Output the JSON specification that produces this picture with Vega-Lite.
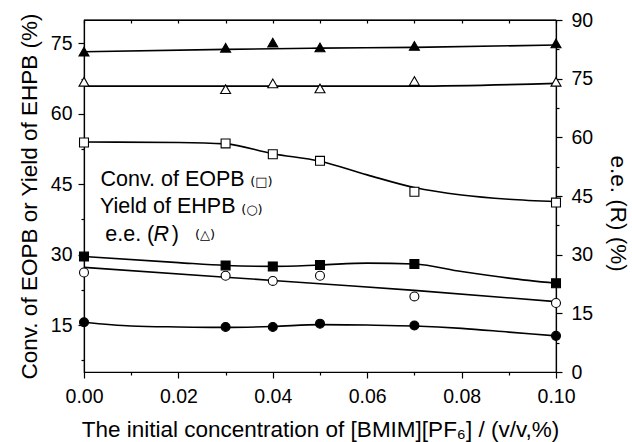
{
  "$schema": "https://vega.github.io/schema/vega-lite/v6.json",
  "autosize": "none",
  "width": 472,
  "height": 352,
  "padding": {"left": 84, "top": 20, "right": 76, "bottom": 70},
  "background": "white",
  "config": {
    "font": "Liberation Sans",
    "view": {"stroke": "black", "strokeWidth": 1.2},
    "axis": {"labelFont": "Liberation Sans", "titleFont": "Liberation Sans", "labelColor": "black", "titleColor": "black", "domainColor": "black", "tickColor": "black", "grid": false, "titleFontWeight": "normal", "labelFontSize": 19.5, "titleFontSize": 22.5, "domainWidth": 1.2, "tickWidth": 1.2, "labelOverlap": false, "labelFlush": false, "labelBound": false}
  },
  "datasets": {
    "pts": [
      {"s": "conv_open", "x": 0, "y": 53.9}, {"s": "conv_open", "x": 0.03, "y": 53.7}, {"s": "conv_open", "x": 0.04, "y": 51.4}, {"s": "conv_open", "x": 0.05, "y": 50.0}, {"s": "conv_open", "x": 0.07, "y": 43.4}, {"s": "conv_open", "x": 0.10, "y": 41.1},
      {"s": "conv_fill", "x": 0, "y": 29.6}, {"s": "conv_fill", "x": 0.03, "y": 27.7}, {"s": "conv_fill", "x": 0.04, "y": 27.5}, {"s": "conv_fill", "x": 0.05, "y": 27.8}, {"s": "conv_fill", "x": 0.07, "y": 28.0}, {"s": "conv_fill", "x": 0.10, "y": 23.9},
      {"s": "yield_open", "x": 0, "y": 26.2}, {"s": "yield_open", "x": 0.03, "y": 25.5}, {"s": "yield_open", "x": 0.04, "y": 24.4}, {"s": "yield_open", "x": 0.05, "y": 25.5}, {"s": "yield_open", "x": 0.07, "y": 21.1}, {"s": "yield_open", "x": 0.10, "y": 19.7},
      {"s": "yield_fill", "x": 0, "y": 15.6}, {"s": "yield_fill", "x": 0.03, "y": 14.6}, {"s": "yield_fill", "x": 0.04, "y": 14.6}, {"s": "yield_fill", "x": 0.05, "y": 15.3}, {"s": "yield_fill", "x": 0.07, "y": 14.9}, {"s": "yield_fill", "x": 0.10, "y": 12.7}
    ],
    "fit": [
      {"s": "conv_open", "x": 0, "y": 54.0}, {"s": "conv_open", "x": 0.02, "y": 53.9}, {"s": "conv_open", "x": 0.03, "y": 53.6}, {"s": "conv_open", "x": 0.04, "y": 51.5}, {"s": "conv_open", "x": 0.05, "y": 49.9}, {"s": "conv_open", "x": 0.06, "y": 47.0}, {"s": "conv_open", "x": 0.07, "y": 44.3}, {"s": "conv_open", "x": 0.08, "y": 42.7}, {"s": "conv_open", "x": 0.09, "y": 41.8}, {"s": "conv_open", "x": 0.10, "y": 41.3},
      {"s": "conv_fill", "x": 0, "y": 29.6}, {"s": "conv_fill", "x": 0.02, "y": 28.3}, {"s": "conv_fill", "x": 0.03, "y": 27.7}, {"s": "conv_fill", "x": 0.04, "y": 27.5}, {"s": "conv_fill", "x": 0.05, "y": 27.8}, {"s": "conv_fill", "x": 0.06, "y": 28.2}, {"s": "conv_fill", "x": 0.07, "y": 28.0}, {"s": "conv_fill", "x": 0.08, "y": 26.4}, {"s": "conv_fill", "x": 0.09, "y": 25.0}, {"s": "conv_fill", "x": 0.10, "y": 23.9},
      {"s": "yield_open", "x": 0, "y": 27.3}, {"s": "yield_open", "x": 0.03, "y": 25.2}, {"s": "yield_open", "x": 0.05, "y": 23.8}, {"s": "yield_open", "x": 0.07, "y": 22.4}, {"s": "yield_open", "x": 0.10, "y": 20.0},
      {"s": "yield_fill", "x": 0, "y": 15.6}, {"s": "yield_fill", "x": 0.01, "y": 14.8}, {"s": "yield_fill", "x": 0.02, "y": 14.6}, {"s": "yield_fill", "x": 0.03, "y": 14.5}, {"s": "yield_fill", "x": 0.04, "y": 14.7}, {"s": "yield_fill", "x": 0.05, "y": 15.1}, {"s": "yield_fill", "x": 0.06, "y": 15.0}, {"s": "yield_fill", "x": 0.07, "y": 14.8}, {"s": "yield_fill", "x": 0.08, "y": 14.3}, {"s": "yield_fill", "x": 0.09, "y": 13.5}, {"s": "yield_fill", "x": 0.10, "y": 12.7}
    ],
    "tpts": [
      {"s": "ee_fill", "x": 0, "y": 81.9}, {"s": "ee_fill", "x": 0.03, "y": 82.9}, {"s": "ee_fill", "x": 0.04, "y": 84.2}, {"s": "ee_fill", "x": 0.05, "y": 83.0}, {"s": "ee_fill", "x": 0.07, "y": 83.4}, {"s": "ee_fill", "x": 0.10, "y": 84.0},
      {"s": "ee_open", "x": 0, "y": 74.2}, {"s": "ee_open", "x": 0.03, "y": 72.3}, {"s": "ee_open", "x": 0.04, "y": 73.8}, {"s": "ee_open", "x": 0.05, "y": 72.5}, {"s": "ee_open", "x": 0.07, "y": 74.4}, {"s": "ee_open", "x": 0.10, "y": 74.2}
    ],
    "tfit": [
      {"s": "ee_fill", "x": 0, "y": 81.9}, {"s": "ee_fill", "x": 0.03, "y": 82.5}, {"s": "ee_fill", "x": 0.05, "y": 82.8}, {"s": "ee_fill", "x": 0.07, "y": 83.0}, {"s": "ee_fill", "x": 0.10, "y": 83.6},
      {"s": "ee_open", "x": 0, "y": 73.1}, {"s": "ee_open", "x": 0.05, "y": 73.1}, {"s": "ee_open", "x": 0.07, "y": 73.1}, {"s": "ee_open", "x": 0.10, "y": 73.8}
    ],
    "frame": [
      {"x": 0, "x2": 0.1, "y": 80}
    ],
    "labels": [
      {"t": "Conv. of EOPB", "x": 0.0035, "y": 45.9},
      {"t": "Yield of EHPB", "x": 0.0034, "y": 40.2},
      {"t": "e.e. (", "x": 0.0045, "y": 34.2},
      {"t": ")", "x": 0.0186, "y": 34.2}
    ],
    "ital": [
      {"t": "R", "x": 0.0147, "y": 34.2}
    ],
    "syms": [
      {"t": "(□)", "x": 0.0352, "y": 45.5},
      {"t": "(○)", "x": 0.0333, "y": 39.6},
      {"t": "(△)", "x": 0.0235, "y": 34.2}
    ]
  },
  "layer": [
    {
      "encoding": {
        "x": {"field": "x", "type": "quantitative", "scale": {"domain": [0, 0.1], "nice": false},
          "axis": {"orient": "bottom", "title": "The initial concentration of [BMIM][PF₆] / (v/v,%)", "values": [0, 0.01, 0.02, 0.03, 0.04, 0.05, 0.06, 0.07, 0.08, 0.09, 0.1],
            "labelExpr": "abs(round(datum.value*100)) % 2 == 0 ? format(datum.value, '.2f') : ''",
            "tickSize": {"condition": {"test": "abs(round(datum.value*100)) % 2 == 0", "value": 6}, "value": 3},
            "labelPadding": 9, "titlePadding": 13}},
        "y": {"field": "y", "type": "quantitative", "scale": {"domain": [5, 80], "nice": false, "zero": false},
          "axis": {"orient": "left", "title": "Conv. of EOPB or Yield of EHPB (%)", "values": [7.5, 15, 22.5, 30, 37.5, 45, 52.5, 60, 67.5, 75],
            "labelExpr": "datum.value % 15 == 0 ? datum.value : ''",
            "tickSize": {"condition": {"test": "datum.value % 15 == 0", "value": 6}, "value": 3},
            "labelPadding": 6, "titlePadding": 9}}
      },
      "layer": [
        {
          "data": {"name": "frame"},
          "mark": {"type": "rule", "color": "black", "strokeWidth": 1.2},
          "encoding": {"x2": {"field": "x2"}}
        },
        {
          "data": {"name": "fit"},
          "mark": {"type": "line", "interpolate": "monotone", "color": "black", "strokeWidth": 1.6},
          "encoding": {"detail": {"field": "s"}}
        },
        {
          "data": {"name": "pts"},
          "mark": {"type": "point", "filled": true, "stroke": "black", "strokeWidth": 1.1, "opacity": 1, "size": 80},
          "encoding": {
            "shape": {"field": "s", "type": "nominal", "scale": {"domain": ["conv_open", "conv_fill", "yield_open", "yield_fill"], "range": ["square", "square", "circle", "circle"]}, "legend": null},
            "fill": {"field": "s", "type": "nominal", "scale": {"domain": ["conv_open", "conv_fill", "yield_open", "yield_fill"], "range": ["white", "black", "white", "black"]}, "legend": null}
          }
        },
        {
          "data": {"name": "labels"},
          "mark": {"type": "text", "align": "left", "baseline": "middle", "fontSize": 21.5, "color": "black", "font": "Liberation Sans"},
          "encoding": {"text": {"field": "t", "type": "nominal"}}
        },
        {
          "data": {"name": "ital"},
          "mark": {"type": "text", "align": "left", "baseline": "middle", "fontSize": 21.5, "fontStyle": "italic", "color": "black", "font": "Liberation Sans"},
          "encoding": {"text": {"field": "t", "type": "nominal"}}
        },
        {
          "data": {"name": "syms"},
          "mark": {"type": "text", "align": "left", "baseline": "middle", "fontSize": 13, "color": "black", "font": "DejaVu Sans"},
          "encoding": {"text": {"field": "t", "type": "nominal"}}
        }
      ]
    },
    {
      "encoding": {
        "x": {"field": "x", "type": "quantitative", "axis": {"orient": "top", "title": null, "labels": false, "values": [0, 0.01, 0.02, 0.03, 0.04, 0.05, 0.06, 0.07, 0.08, 0.09, 0.1], "tickSize": -3}},
        "y": {"field": "y", "type": "quantitative", "scale": {"domain": [0, 90], "nice": false},
          "axis": {"orient": "right", "title": "e.e. (R) (%)", "values": [0, 7.5, 15, 22.5, 30, 37.5, 45, 52.5, 60, 67.5, 75, 82.5, 90],
            "labelExpr": "datum.value % 15 == 0 ? datum.value : ''",
            "tickSize": {"condition": {"test": "datum.value % 15 == 0", "value": 6}, "value": 3},
            "labelPadding": 9, "titlePadding": 13, "titleY": 193}}
      },
      "layer": [
        {
          "data": {"name": "tfit"},
          "mark": {"type": "line", "interpolate": "monotone", "color": "black", "strokeWidth": 1.6},
          "encoding": {"detail": {"field": "s"}}
        },
        {
          "data": {"name": "tpts"},
          "mark": {"type": "point", "filled": true, "stroke": "black", "strokeWidth": 1.1, "opacity": 1, "size": 100, "shape": "triangle-up"},
          "encoding": {
            "fill": {"field": "s", "type": "nominal", "scale": {"domain": ["ee_open", "ee_fill"], "range": ["white", "black"]}, "legend": null}
          }
        }
      ]
    }
  ],
  "resolve": {"scale": {"y": "independent"}, "axis": {"x": "independent"}}
}
